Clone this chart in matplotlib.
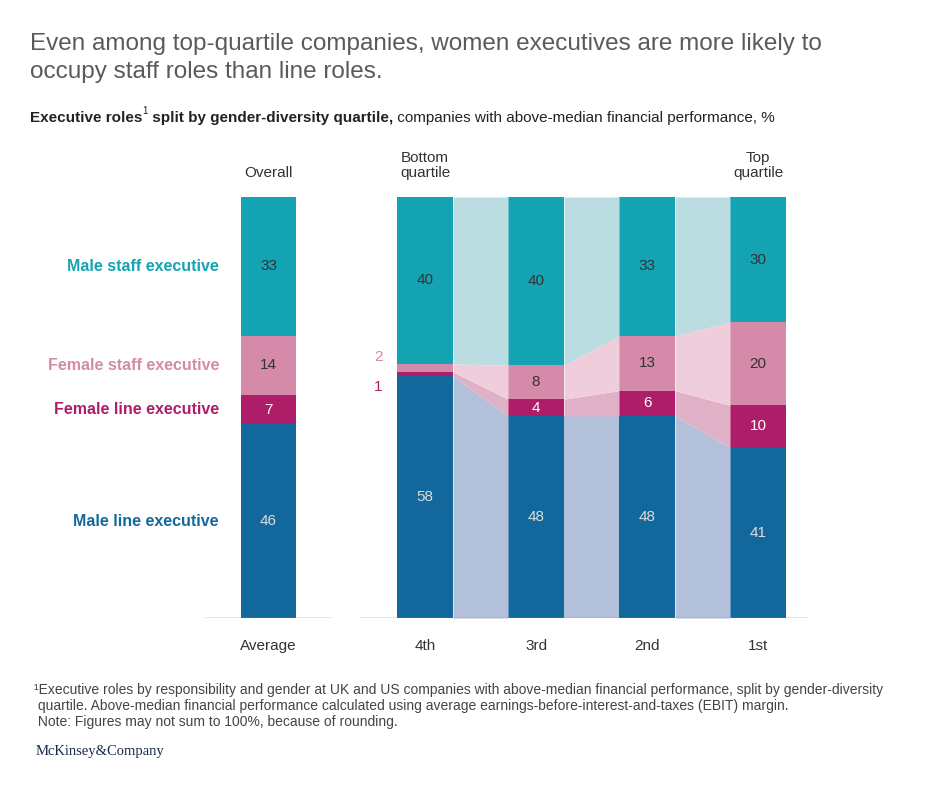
import numpy as np
import matplotlib.pyplot as plt

plt.rcParams['font.family'] = ['Liberation Sans', 'DejaVu Sans']

series = ['Male line executive', 'Female line executive', 'Female staff executive', 'Male staff executive']
avg = [46, 7, 14, 33]
quartiles = ['4th', '3rd', '2nd', '1st']
q_vals = np.array([[58, 48, 48, 41],
                   [1, 4, 6, 10],
                   [2, 8, 13, 20],
                   [40, 40, 33, 30]])
colors = ['#12689c', '#ad1d68', '#d48aa8', '#14a3b2']
flow_colors = ['#b2c0da', '#e0b1c6', '#efcdda', '#bbdde1']
txt_colors = ['#dddddd', '#ffffff', '#333333', '#333333']

W, H = 940, 788
fig = plt.figure(figsize=(W / 100, H / 100), dpi=100)

def axrect(x0, x1, y0, y1):
    return [x0 / W, 1 - y1 / H, (x1 - x0) / W, (y1 - y0) / H]

# left: overall
ax1 = fig.add_axes(axrect(205, 332, 197, 618))
bot = 0
for i, v in enumerate(avg):
    ax1.bar(0, v, width=0.44, bottom=bot, color=colors[i])
    ax1.text(0, bot + v / 2, str(v), ha='center', va='center', fontsize=11, color=txt_colors[i])
    ax1.text(-0.39, bot + v / 2, series[i], ha='right', va='center', fontsize=11.5,
             color=colors[i], fontweight='bold')
    bot += v
ax1.set_xlim(-0.5, 0.5)
ax1.set_ylim(0, 100)
ax1.axis('off')
ax1.axhline(0, color='#888888', lw=1)
ax1.text(0, -5, 'Average', ha='center', va='top', fontsize=11, color='#333333')
ax1.text(0, 104, 'Overall', ha='center', va='bottom', fontsize=11, color='#333333')

# right: quartiles
ax2 = fig.add_axes(axrect(360, 808, 197, 618))
norm = q_vals / q_vals.sum(axis=0) * 100
cum = np.vstack([np.zeros(4), np.cumsum(norm, axis=0)])
x = np.arange(4)
w = 0.505
for i in range(4):
    ax2.bar(x, norm[i], width=w, bottom=cum[i], color=colors[i])
    for j in range(3):
        xs = [x[j] + w / 2, x[j + 1] - w / 2]
        ax2.fill_between(xs, [cum[i][j], cum[i][j + 1]], [cum[i + 1][j], cum[i + 1][j + 1]],
                         color=flow_colors[i], lw=0)
    for j in range(4):
        v = q_vals[i][j]
        if v >= 4:
            ax2.text(x[j], cum[i][j] + norm[i][j] / 2, str(v), ha='center', va='center',
                     fontsize=11, color=txt_colors[i])
ax2.text(-0.38, cum[1][0] - 2.5, '1', ha='right', va='center', fontsize=11, color=colors[1])
ax2.text(-0.38, cum[2][0] + 3.5, '2', ha='right', va='center', fontsize=11, color=colors[2])
ax2.set_xlim(-0.586, 3.45)
ax2.set_ylim(0, 100)
ax2.axis('off')
ax2.axhline(0, color='#888888', lw=1)
for j, q in enumerate(quartiles):
    ax2.text(x[j], -5, q, ha='center', va='top', fontsize=11, color='#333333')
ax2.text(0, 104, 'Bottom\nquartile', ha='center', va='bottom', fontsize=11, color='#333333', linespacing=1.1)
ax2.text(3, 104, 'Top\nquartile', ha='center', va='bottom', fontsize=11, color='#333333', linespacing=1.1)
ax2.annotate('', xy=(2.7, 108.5), xytext=(0.5, 108.5),
             arrowprops=dict(arrowstyle='-|>', color='#333333', lw=1))

fig.text(30 / W, 1 - 58 / H, 'Even among top-quartile companies, women executives are more likely to\noccupy staff roles than line roles.',
         ha='left', va='center', fontsize=17.5, color='#5a5a5a', linespacing=1.3)

# subtitle pieces, placed one after another
r = fig.canvas.get_renderer()
xpos = 30
y = 1 - 118 / H
for s, kw in [('Executive roles', dict(fontweight='bold', fontsize=11)),
              ('1', dict(fontsize=7, va='bottom')),
              (' split by gender-diversity quartile,', dict(fontweight='bold', fontsize=11)),
              (' companies with above-median financial performance, %', dict(fontsize=11))]:
    va = kw.pop('va', 'center')
    t = fig.text(xpos / W, y + (0.002 if va == 'bottom' else 0), s, ha='left', va=va, color='#222222', **kw)
    xpos = t.get_window_extent(r).x1

fig.text(34 / W, 1 - 706 / H,
         '¹Executive roles by responsibility and gender at UK and US companies with above-median financial performance, split by gender-diversity\n'
         ' quartile. Above-median financial performance calculated using average earnings-before-interest-and-taxes (EBIT) margin.\n'
         ' Note: Figures may not sum to 100%, because of rounding.',
         ha='left', va='center', fontsize=10, color='#444444', linespacing=1.15)
fig.text(36 / W, 1 - 752 / H, 'McKinsey&Company', ha='left', va='center', fontsize=10.5,
         family=['Liberation Serif'], color='#1a2a4a')

fig.savefig('out.png', dpi=100, facecolor='white')
